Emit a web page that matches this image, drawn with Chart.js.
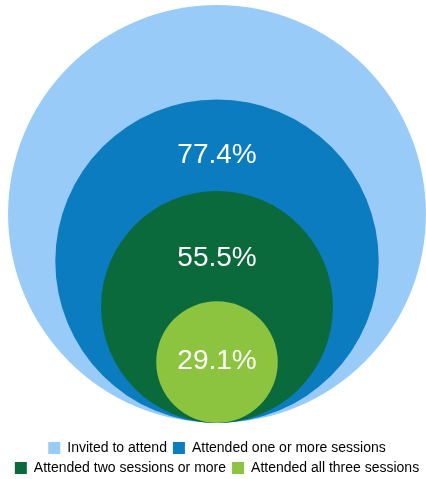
<!DOCTYPE html>
<html>
<head>
<meta charset="utf-8">
<script src="https://cdn.jsdelivr.net/npm/chart.js@4/dist/chart.umd.min.js"></script>
<style>
  html, body { margin: 0; padding: 0; background: #fff; overflow: hidden; }
  #wrap { width: 426px; height: 479px; }
</style>
</head>
<body>
<div id="wrap"><canvas id="circleChart"></canvas></div>
<script>
// categories and values (share of invited, in %)
const categories = [
  'Invited to attend',
  'Attended one or more sessions',
  'Attended two sessions or more',
  'Attended all three sessions'
];
const values = [100, 77.4, 55.5, 29.1];
const valueLabels = ['', '77.4%', '55.5%', '29.1%'];
const colors = ['#99cbf8', '#0b7cc0', '#0a6a3c', '#8cc43f'];

// radius in px of a value, measured on the y scale
function radiusFor(chart, v) {
  const y = chart.scales.y;
  return y.getPixelForValue(0) - y.getPixelForValue(v);
}

// draws the percentages in the visible band of each ring
const ringLabels = {
  id: 'ringLabels',
  afterDatasetsDraw(chart) {
    const { ctx } = chart;
    const y = chart.scales.y;
    const x = chart.scales.x;
    ctx.save();
    ctx.font = '28px "Liberation Sans", Arial, sans-serif';
    ctx.fillStyle = '#ffffff';
    ctx.textAlign = 'center';
    ctx.textBaseline = 'middle';
    for (let i = 1; i < values.length; i++) {
      const top = y.getPixelForValue(values[i] * 2);
      const next = i + 1 < values.length ? y.getPixelForValue(values[i + 1] * 2) : y.getPixelForValue(0);
      const frac = i + 1 < values.length ? 0.61 : 0.49;
      ctx.fillText(valueLabels[i], x.getPixelForValue(0), top + (next - top) * frac);
    }
    ctx.restore();
  }
};

new Chart(document.getElementById('circleChart'), {
  type: 'scatter',
  data: {
    labels: categories,
    datasets: [{
      data: values.map(v => ({ x: 0, y: v })),
      backgroundColor: colors,
      borderWidth: 0,
      pointRadius: ctx => radiusFor(ctx.chart, values[ctx.dataIndex]),
      pointHoverRadius: ctx => radiusFor(ctx.chart, values[ctx.dataIndex])
    }]
  },
  options: {
    responsive: true,
    maintainAspectRatio: false,
    animation: false,
    events: [],
    layout: {
      padding: { left: 8, right: 0, top: 0, bottom: -6 }
    },
    scales: {
      x: { display: false, min: -1, max: 1 },
      y: { display: false, min: -5.8, max: 202.4 }
    },
    plugins: {
      tooltip: { enabled: false },
      legend: {
        position: 'bottom',
        labels: {
          boxWidth: 12,
          boxHeight: 12,
          padding: 6,
          color: '#8a8a8a',
          font: { family: '"Liberation Sans", Arial, sans-serif', size: 14 },
          generateLabels: () => categories.map((c, i) => ({
            text: c,
            fillStyle: colors[i],
            strokeStyle: colors[i],
            lineWidth: 0,
            hidden: false,
            index: i
          }))
        }
      }
    }
  },
  plugins: [ringLabels]
});
</script>
</body>
</html>
